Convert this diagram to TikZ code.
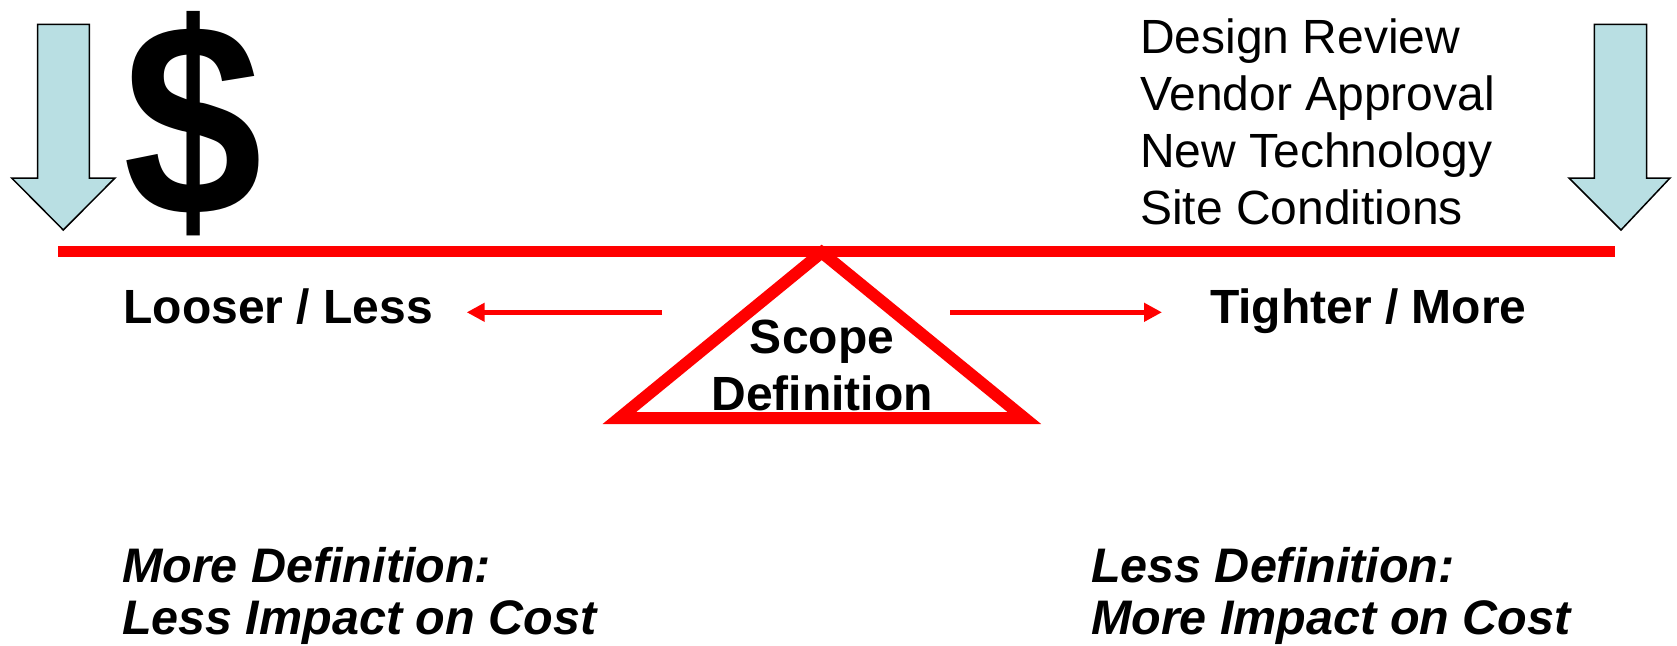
\documentclass[tikz,border=0pt]{standalone}
\usepackage{fontspec}
\setmainfont{Liberation Sans}
\usetikzlibrary{arrows.meta}

\definecolor{arrowblue}{RGB}{185,223,227}
\definecolor{beamred}{RGB}{255,0,0}

\begin{document}
\begin{tikzpicture}[x=1pt,y=-1pt,
  txt/.style={inner sep=0pt,outer sep=0pt,font=\fontsize{48}{57}\selectfont},
  boldtxt/.style={txt,font=\fontsize{48}{57}\selectfont\bfseries},
  bitxt/.style={txt,font=\fontsize{48.5}{57}\selectfont\bfseries\itshape},
  loadarrow/.style={fill=arrowblue,draw=black,line width=1.5pt,line join=miter},
  pointer/.style={draw=beamred,line width=5pt,-{Triangle[length=18pt,width=18pt]}},
]
\useasboundingbox (0,0) rectangle (1677,645);

% block arrows pressing down on the beam
\path[loadarrow] (37.7,24.3) -- (89.3,24.3) -- (89.3,178) -- (115,178)
  -- (63.3,230) -- (11.7,178) -- (37.7,178) -- cycle;
\path[loadarrow] (1594.3,24.3) -- (1646.7,24.3) -- (1646.7,178) -- (1670,178)
  -- (1621,230) -- (1569,178) -- (1594.3,178) -- cycle;

% dollar sign
\node[inner sep=0pt,yscale=1.1,transform shape,font=\fontsize{250}{250}\selectfont\bfseries] (dollar) at (193.5,124) {\$};

% factors on the right
\node[txt,anchor=base west] (f1) at (1140,53) {Design Review};
\node[txt,anchor=base west] (f2) at (1140,110) {Vendor Approval};
\node[txt,anchor=base west] (f3) at (1140,167) {New Technology};
\node[txt,anchor=base west] (f4) at (1140,224) {Site Conditions};

% fulcrum
\coordinate (apex) at (821.7,252.4);
\coordinate (bl) at (619.4,418);
\coordinate (br) at (1024.3,418);
\draw[beamred,line width=12pt,line join=miter,miter limit=10] (apex) -- (bl) -- (br) -- cycle;

% beam
\coordinate (beamL) at (58,251.5);
\coordinate (beamR) at (1615,251.5);
\fill[beamred] (58,246) rectangle (1615,257);

\node[boldtxt,anchor=base] (scope) at (822,353) {Scope};
\node[boldtxt,anchor=base] (defn) at (822,410) {Definition};

% direction labels and pointers
\node[boldtxt,anchor=base west] (loose) at (123.6,323) {Looser / Less};
\node[boldtxt,anchor=base west] (tight) at (1210,323) {Tighter / More};
\coordinate (lA) at (662,312.3);
\coordinate (lB) at (466.7,312.3);
\coordinate (rA) at (950,312.3);
\coordinate (rB) at (1162,312.3);
\draw[pointer] (lA) -- (lB);
\draw[pointer] (rA) -- (rB);

% conclusions
\node[bitxt,anchor=base west] (c1) at (122,582) {More Definition:};
\node[bitxt,anchor=base west] (c2) at (122,634) {Less Impact on Cost};
\node[bitxt,anchor=base west] (c3) at (1091,582) {Less Definition:};
\node[bitxt,anchor=base west] (c4) at (1091,634) {More Impact on Cost};
\end{tikzpicture}
\end{document}
